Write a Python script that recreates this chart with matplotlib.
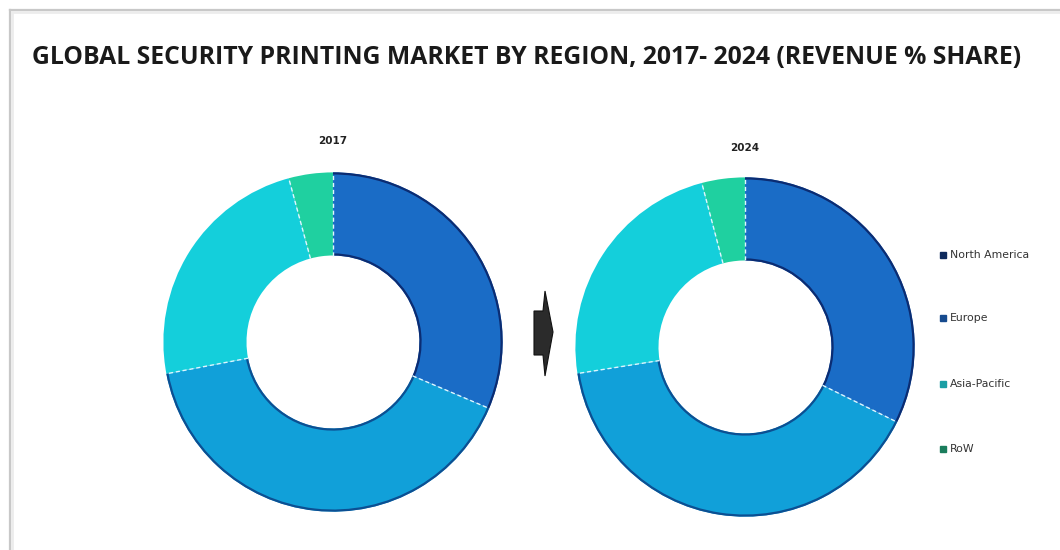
import numpy as np
import matplotlib.pyplot as plt
from matplotlib.patches import Polygon, Arc
from matplotlib.lines import Line2D

# revenue share by region (%)
regions = ['North America', 'Europe', 'Asia-Pacific', 'RoW']
share_2017 = [31.4, 40.6, 23.8, 4.2]
share_2024 = [32.3, 40.2, 23.4, 4.1]
years = ['2017', '2024']

wedge_colors = ['#1a6cc6', '#11a0d9', '#14cfdb', '#1fd0a0']
rim_colors = ['#0b2c72', '#0c4f92', None, None]
legend_colors = ['#0e2a5c', '#164b8e', '#1a9ea4', '#1a7d5c']

W, H = 1060, 550
fig = plt.figure(figsize=(W / 100, H / 100), dpi=100)
fig.patch.set_facecolor('white')

def fx(x):
    return x / W

def fy(y):
    return 1 - y / H

# panel border (top and left edge with soft shadow)
for off, c, lw in [(0, '#c8c8c8', 1.6), (2, '#ececec', 2.0)]:
    fig.add_artist(Line2D([fx(10 + off), 1], [fy(10 + off), fy(10 + off)], color=c, lw=lw))
    fig.add_artist(Line2D([fx(10 + off), fx(10 + off)], [fy(10 + off), 0], color=c, lw=lw))

fig.text(fx(32), fy(57), 'GLOBAL SECURITY PRINTING MARKET BY REGION, 2017- 2024 (REVENUE % SHARE)',
         fontsize=17.8, fontweight='bold', family='Open Sans', color='#1a1a1a',
         va='center', ha='left')

def donut(cx, cy, R, values, year, year_y):
    ax = fig.add_axes([fx(cx - R), fy(cy + R), 2 * R / W, 2 * R / H])
    width = 0.49
    wedges, _ = ax.pie(values, colors=wedge_colors, startangle=90, counterclock=False,
                       radius=1, wedgeprops=dict(width=width, linewidth=0))
    # darker rim on the blue slices
    for w, rc in zip(wedges, rim_colors):
        if rc is None:
            continue
        for r in (w.r - 0.006, w.r - width + 0.006):
            ax.add_patch(Arc((0, 0), 2 * r, 2 * r, theta1=w.theta1, theta2=w.theta2,
                             color=rc, lw=1.6))
    # light dashed separators between slices
    bounds = 90 - np.cumsum([0] + values[:-1]) * 3.6
    for a in bounds:
        t = np.deg2rad(a)
        ax.plot([0.51 * np.cos(t), 0.995 * np.cos(t)], [0.51 * np.sin(t), 0.995 * np.sin(t)],
                color='#dff6ff', lw=1.0, ls=(0, (3, 2)))
    ax.set_xlim(-1.02, 1.02)
    ax.set_ylim(-1.02, 1.02)
    ax.set_aspect('equal')
    ax.axis('off')
    fig.text(fx(cx), fy(year_y), year, fontsize=7.5, fontweight='bold',
             color='#222222', ha='center', va='center')
    return wedges

donut(333, 342, 173, share_2017, years[0], 141)
donut(745, 347, 173, share_2024, years[1], 148)

# arrow between the two years
arrow_px = [(534, 311), (543, 311), (545, 291), (553, 332), (545, 376), (543, 355), (534, 355)]
fig.add_artist(Polygon([(fx(x), fy(y)) for x, y in arrow_px], closed=True,
                       facecolor='#2b2b2b', edgecolor='#111111', lw=0.8))

# legend
leg_y = [255, 318, 384, 449]
for name, col, y in zip(regions, legend_colors, leg_y):
    fig.add_artist(Line2D([fx(943)], [fy(y)], marker='s', markersize=4.5,
                          color=col, linestyle='none'))
    fig.text(fx(950), fy(y), name, fontsize=7.8, color='#333333', va='center', ha='left')

fig.savefig('out.png', dpi=100, facecolor='white')
